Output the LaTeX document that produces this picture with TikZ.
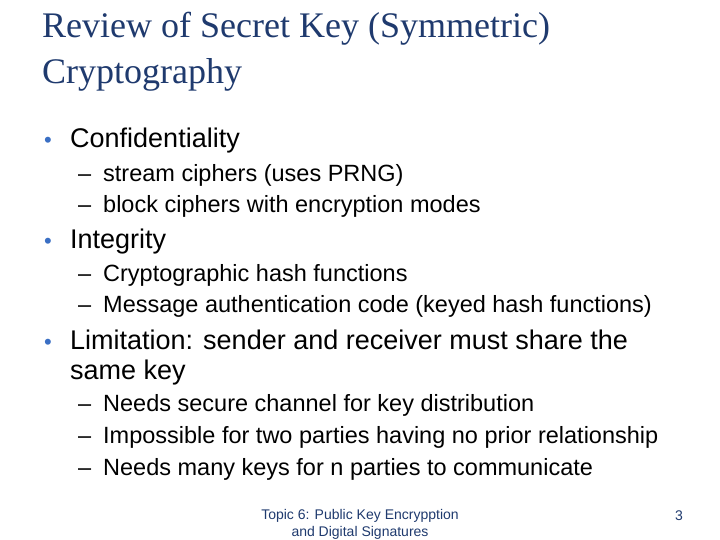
\documentclass[tikz,border=0pt]{standalone}
\usepackage{fontspec}
\setmainfont{Liberation Sans}
\newfontfamily\titlefont{Liberation Serif}
\definecolor{ttl}{HTML}{1F3A6E}
\definecolor{bul}{HTML}{3A6FC4}
\begin{document}
\begin{tikzpicture}[x=1pt,y=-1pt,
  titletext/.style={anchor=base west,inner sep=0,text=ttl,font=\titlefont\fontsize{36}{40}\selectfont},
  lvlone/.style={anchor=base west,inner sep=0,font=\fontsize{27}{32}\selectfont},
  lvltwo/.style={anchor=base west,inner sep=0,font=\fontsize{23.5}{28}\selectfont},
  bulletmark/.style={anchor=base west,inner sep=0,text=bul,font=\fontsize{22}{26}\selectfont},
  dashmark/.style={anchor=base west,inner sep=0,font=\fontsize{23.5}{28}\selectfont},
  foot/.style={inner sep=0,text=ttl,font=\fontsize{14}{17}\selectfont}]
\useasboundingbox[fill=white] (0,0) rectangle (720,540);
\node[titletext] (t1) at (42,38) {Review of Secret Key (Symmetric)};
\node[titletext] (t2) at (42,84) {Cryptography};
% level one
\foreach \y/\txt/\nm in {148/Confidentiality/c, 248/Integrity/i, 349/Limitation: sender and receiver must share the/l}{
  \node[bulletmark] (b\nm) at (44,\y) {•};
  \node[lvlone] (x\nm) at (70,\y) {\txt};
}
\node[lvlone] (l2) at (70,379) {same key};
% level two
\foreach \y/\txt/\nm in {182/stream ciphers (uses PRNG)/a, 213/block ciphers with encryption modes/b, 281/Cryptographic hash functions/c, 312/Message authentication code (keyed hash functions)/d, 411/Needs secure channel for key distribution/e, 443/Impossible for two parties having no prior relationship/f, 475/Needs many keys for n parties to communicate/g}{
  \node[dashmark] (d\nm) at (78,\y) {–};
  \node[lvltwo] (s\nm) at (103,\y) {\txt};
}
\node[foot] (f1) at (360,516) {Topic 6: Public Key Encrypption};
\node[foot] (f2) at (360,533) {and Digital Signatures};
\node[foot] (pg) at (679,516) {3};
\end{tikzpicture}
\end{document}
